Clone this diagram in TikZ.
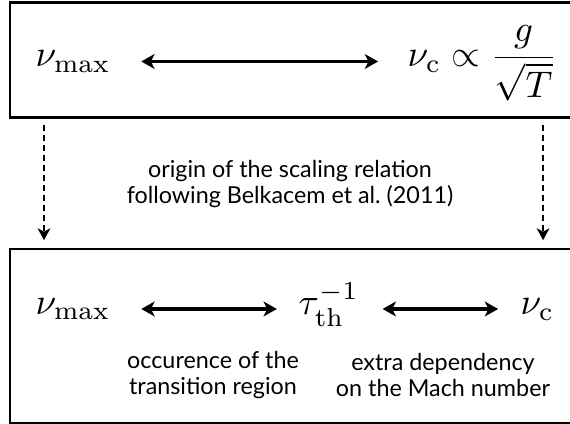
\documentclass[tikz,border=0pt]{standalone}
\usepackage{amsmath}
\usepackage{fontspec}
\setsansfont{Lato}
\usetikzlibrary{arrows.meta,positioning}

\begin{document}
\begin{tikzpicture}[x=0.27pt,y=-0.27pt,
  box/.style={draw,line width=0.6pt,anchor=north west,inner sep=0pt},
  sym/.style={inner sep=0pt},
  note/.style={font=\sffamily\fontsize{6.3}{7}\selectfont,align=center,inner sep=0pt},
  both/.style={{Stealth[length=3.6pt,width=4pt,inset=1pt]}-{Stealth[length=3.6pt,width=4pt,inset=1pt]},line width=0.95pt},
  down/.style={-{Stealth[length=3.2pt,width=3.4pt,inset=0.9pt]},line width=0.75pt,dash pattern=on 1.6pt off 1.1pt}]
  \useasboundingbox (0,0) rectangle (570,424);
  % upper box: observed scaling
  \node[box,minimum width=157pt,minimum height=31.05pt] (topbox) at (9,1.5) {};
  \node[sym,anchor=west] (numaxtop) at (35,61.5) {$\nu_{\max}$};
  \node[sym,anchor=base west] (nuctop) at (407,67) {$\nu_{\mathrm{c}} \propto \dfrac{g}{\sqrt{T}}$};
  \draw[both,shorten <=8.1pt,shorten >=7.8pt] (numaxtop.east) -- (numaxtop.east -| nuctop.west);
  % dashed links down to the lower box
  \node[box,minimum width=157pt,minimum height=46.98pt] (botbox) at (9,248) {};
  \draw[down] ([xshift=9.45pt,yshift=-1.6pt]topbox.south west) -- ([xshift=9.45pt,yshift=2.1pt]botbox.north west);
  \draw[down] ([xshift=144.2pt,yshift=-1.6pt]topbox.south west) -- ([xshift=144.2pt,yshift=2.1pt]botbox.north west);
  \node[note] (origin) at (290,184) {origin of the scaling relation\\following Belkacem et al.\ (2011)};
  % lower box: through the thermal time
  \node[sym,anchor=west] (numaxbot) at (35,309) {$\nu_{\max}$};
  \node[sym,anchor=base west] (tau) at (298,315) {$\tau_{\mathrm{th}}^{-1}$};
  \node[sym,anchor=base west] (nucbot) at (520,315) {$\nu_{\mathrm{c}}$};
  \draw[both,shorten <=8.1pt,shorten >=5.7pt] (numaxbot.east) -- (numaxbot.east -| tau.west);
  \draw[both,shorten <=6.2pt,shorten >=5.9pt] (tau.east |- numaxbot.east) -- (numaxbot.east -| nucbot.west);
  \node[note] (transit) at (213,375) {occurence of the\\transition region};
  \node[note] (mach) at (443,375) {extra dependency\\on the Mach number};
\end{tikzpicture}
\end{document}
